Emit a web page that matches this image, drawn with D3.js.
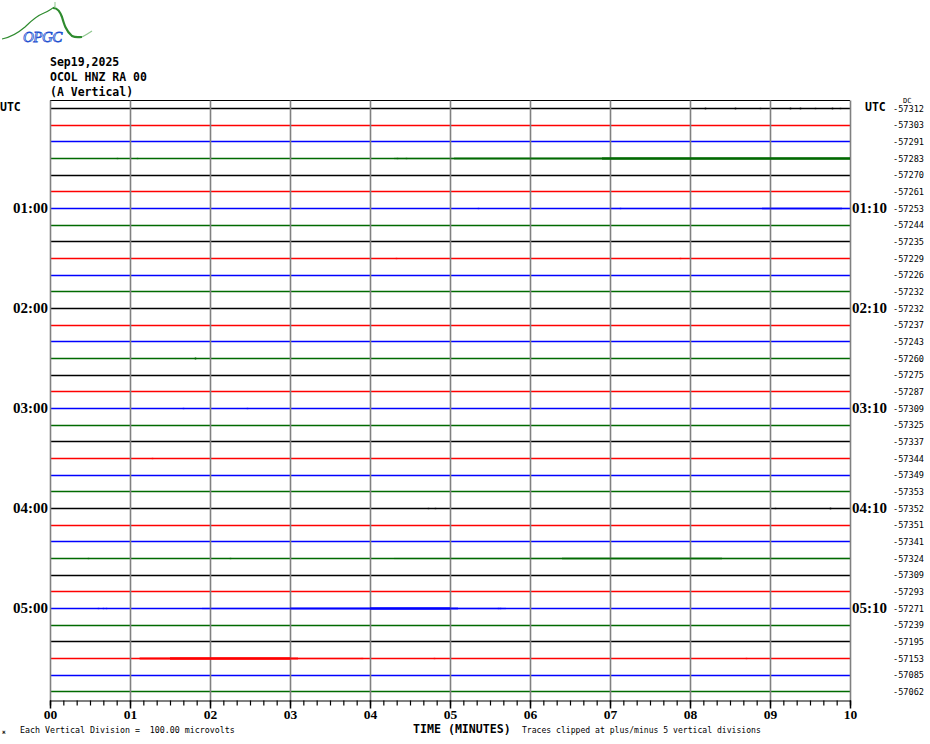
<!DOCTYPE html>
<html><head><meta charset="utf-8">
<script src="https://cdn.jsdelivr.net/npm/d3@7/dist/d3.min.js"></script>
<style>
html,body{margin:0;padding:0;background:#fff;}
svg{display:block;}
</style></head>
<body>
<svg id="chart" width="930" height="744"></svg>
<script>
// ---------- DATA ----------
const stationTitle = ["Sep19,2025", "OCOL HNZ RA 00", "(A Vertical)"];
const minuteTicks = [0,1,2,3,4,5,6,7,8,9,10];
const minuteTickLabels = ["00","01","02","03","04","05","06","07","08","09","10"];
const traceColors = ["#000000", "#ff0000", "#0000ff", "#006a00"];
const traceCount = 36;
const traceMinutes = 10;
const leftHourLabels = ["UTC","01:00","02:00","03:00","04:00","05:00"];
const rightHourLabels = ["UTC","01:10","02:10","03:10","04:10","05:10"];
const dcValues = [-57312,-57303,-57291,-57283,-57270,-57261,-57253,-57244,-57235,-57229,-57226,-57232,
  -57232,-57237,-57243,-57260,-57275,-57287,-57309,-57325,-57337,-57344,-57349,-57353,
  -57352,-57351,-57341,-57324,-57309,-57293,-57271,-57239,-57195,-57153,-57085,-57062];
// isolated spikes: [trace index, minute, amplitude microvolts]
const spikes = [
  [0,8.19,10],[0,8.56,10],[0,8.88,8],[0,9.25,10],[0,9.38,10],[0,9.56,8],[0,9.78,10],[0,9.88,8],
  [3,0.84,8],[3,1.09,8],[3,4.34,8],[3,4.45,8],
  [6,5.35,8],[6,7.13,8],
  [9,4.32,8],[9,7.88,8],
  [15,1.81,12],
  [18,1.66,8],[18,2.46,8],
  [21,1.28,8],
  [24,4.72,8],[24,4.81,8],[24,9.06,8],[24,9.75,10],
  [27,0.47,8],[27,2.25,8],
  [30,0.6,8],[30,0.66,8],[30,0.7,8],[30,5.6,8],[30,5.62,8],
  [33,3.9,8],[33,4.8,8],[33,8.7,8]
];
// noise bands: [trace index, start minute, end minute, amplitude microvolts, density]
const noiseBands = [
  [3,4.3,10.0,9,0.45],[3,5.05,10.0,13,0.55],[3,6.9,10.0,16,0.7],
  [6,7.0,10.0,8,0.4],[6,8.9,9.9,11,0.6],
  [27,4.3,10.0,8,0.4],[27,6.4,8.4,11,0.6],
  [30,1.9,5.7,9,0.45],[30,3.0,5.1,13,0.6],[30,4.0,5.0,16,0.7],
  [33,1.12,3.9,9,0.45],[33,1.12,3.1,14,0.6],[33,1.5,3.0,17,0.7]
];

// ---------- LAYOUT ----------
const svg = d3.select("#chart");
const x = d3.scaleLinear().domain([0, traceMinutes]).range([50, 850]);
const yTrace = d3.scaleLinear().domain([0, traceCount]).range([108, 708]);
const yAmp = d3.scaleLinear().domain([0, 100]).range([0, 600/36]);
const plotTop = 100.5, plotBottom = 700.5;
const mono = "'DejaVu Sans Mono', 'Liberation Mono', monospace";
const serif = "'Liberation Serif', 'DejaVu Serif', serif";
const yLine = i => Math.round(yTrace(i)) + 0.5;

// ---------- LOGO ----------
const logo = svg.append("g");
logo.append("path")
  .attr("d","M2,39 C12,37 18,33 25,27 C30,22 36,16 44,13 C49,11 52,8 55,7")
  .attr("fill","none").attr("stroke","#2e8b2e").attr("stroke-width",1.2);
logo.append("path")
  .attr("d","M53,8 C58,8 60,12 62,17 C64,24 66,31 72,36 C76,38 79,37 82,37")
  .attr("fill","none").attr("stroke","#2e8b2e").attr("stroke-width",2.2);
logo.append("path")
  .attr("d","M82,37 C86,35 89,33 92,31")
  .attr("fill","none").attr("stroke","#8fc78f").attr("stroke-width",1.2);
logo.append("line").attr("x1",55).attr("x2",55).attr("y1",2).attr("y2",8)
  .attr("stroke","#8fc78f").attr("stroke-width",1);
logo.append("text").attr("x",23).attr("y",42).text("OPGC")
  .attr("font-family",serif).attr("font-style","italic").attr("font-size",15)
  .attr("fill","#ffffff").attr("stroke","#2050d0").attr("stroke-width",0.8)
  .attr("letter-spacing",-0.5);

// ---------- TITLE ----------
svg.append("g").selectAll("text").data(stationTitle).join("text")
  .attr("x",50).attr("y",(d,i)=>66 + i*15)
  .attr("font-family",mono).attr("font-weight","bold").attr("font-size",11.5)
  .attr("fill","#000").text(d=>d);

// ---------- GRID ----------
svg.append("line").attr("x1",x(0)).attr("x2",x(10)).attr("y1",plotTop).attr("y2",plotTop)
  .attr("stroke","#000").attr("stroke-width",1);

// ---------- TRACES ----------
const traces = d3.range(traceCount);
svg.append("g").selectAll("line").data(traces).join("line")
  .attr("x1",x(0)).attr("x2",x(traceMinutes))
  .attr("y1",d=>yLine(d)).attr("y2",d=>yLine(d))
  .attr("stroke",d=>traceColors[d%4]).attr("stroke-width",1.4);

svg.append("g").selectAll("line").data(minuteTicks).join("line")
  .attr("x1",d=>Math.round(x(d))+0.5).attr("x2",d=>Math.round(x(d))+0.5)
  .attr("y1",plotTop).attr("y2",plotBottom)
  .attr("stroke","#808080").attr("stroke-width",1.6);

// noise bands
svg.append("g").selectAll("rect").data(noiseBands).join("rect")
  .attr("x",d=>x(d[1])).attr("width",d=>x(d[2])-x(d[1]))
  .attr("y",d=>yLine(d[0]) - yAmp(d[3])/2)
  .attr("height",d=>yAmp(d[3]))
  .attr("fill",d=>traceColors[d[0]%4]).attr("opacity",d=>d[4]);

// spikes
svg.append("g").selectAll("line").data(spikes).join("line")
  .attr("x1",d=>Math.round(x(d[1]))+0.5).attr("x2",d=>Math.round(x(d[1]))+0.5)
  .attr("y1",d=>yLine(d[0]) - yAmp(d[2])/2)
  .attr("y2",d=>yLine(d[0]) + yAmp(d[2])/2)
  .attr("stroke",d=>traceColors[d[0]%4]).attr("stroke-width",1.5);

// ---------- HOUR LABELS ----------
const hourIdx = d3.range(0, traceCount, 6);
svg.append("g").selectAll("text").data(hourIdx).join("text")
  .attr("x",(d,i)=> i===0 ? 0 : 48).attr("y",(d,i)=> i===0 ? yTrace(d)+3 : yTrace(d)+5)
  .attr("text-anchor",(d,i)=> i===0 ? "start" : "end")
  .attr("font-family",(d,i)=> i===0 ? mono : serif).attr("font-weight","bold")
  .attr("font-size",(d,i)=> i===0 ? 11.5 : 15)
  .attr("fill","#000").text((d,i)=>leftHourLabels[i]);

svg.append("g").selectAll("text").data(hourIdx).join("text")
  .attr("x",(d,i)=> i===0 ? 865 : 852).attr("y",(d,i)=> i===0 ? yTrace(d)+3 : yTrace(d)+5)
  .attr("font-family",(d,i)=> i===0 ? mono : serif).attr("font-weight","bold")
  .attr("font-size",(d,i)=> i===0 ? 11.5 : 15)
  .attr("fill","#000").text((d,i)=>rightHourLabels[i]);

// ---------- DC VALUES ----------
svg.append("text").attr("x",903).attr("y",103).text("DC")
  .attr("font-family",mono).attr("font-size",7).attr("fill","#000");
svg.append("g").selectAll("text").data(dcValues).join("text")
  .attr("x",893).attr("y",(d,i)=>yTrace(i)+3.5)
  .attr("font-family",mono).attr("font-size",8.6).attr("fill","#000")
  .text(d=>d);

// ---------- X AXIS ----------
const minorTicks = d3.range(0, 61).map(k=>k/6);
const axisMinor = d3.axisBottom(x).tickValues(minorTicks).tickSize(5).tickFormat("");
const gMinor = svg.append("g").attr("transform","translate(0,700.5)").call(axisMinor);
gMinor.select(".domain").attr("stroke","#000").attr("stroke-width",1.2);
gMinor.selectAll(".tick line").attr("stroke","#000").attr("stroke-width",1.2);

const axisMajor = d3.axisBottom(x).tickValues(minuteTicks).tickSize(8)
  .tickFormat((d,i)=>minuteTickLabels[i]).tickPadding(1);
const gMajor = svg.append("g").attr("transform","translate(0,700.5)").call(axisMajor);
gMajor.select(".domain").remove();
gMajor.selectAll(".tick line").attr("stroke","#000").attr("stroke-width",1.5);
gMajor.selectAll(".tick text").attr("font-family",serif).attr("font-weight","bold")
  .attr("font-size",13.5).attr("fill","#000");

// ---------- FOOTER ----------
svg.append("text").attr("x",20).attr("y",733).text("Each Vertical Division =  100.00 microvolts")
  .attr("font-family",mono).attr("font-size",8.3).attr("fill","#000")
  .style("white-space","pre").attr("xml:space","preserve");
svg.append("text").attr("x",413).attr("y",733).text("TIME (MINUTES)")
  .attr("font-family",mono).attr("font-weight","bold").attr("font-size",11.6).attr("fill","#000");
svg.append("text").attr("x",522).attr("y",733).text("Traces clipped at plus/minus 5 vertical divisions")
  .attr("font-family",mono).attr("font-size",8.1).attr("fill","#000");
svg.append("text").attr("x",2).attr("y",734).text("ж")
  .attr("font-family",mono).attr("font-size",6).attr("fill","#000");
</script>
</body></html>
